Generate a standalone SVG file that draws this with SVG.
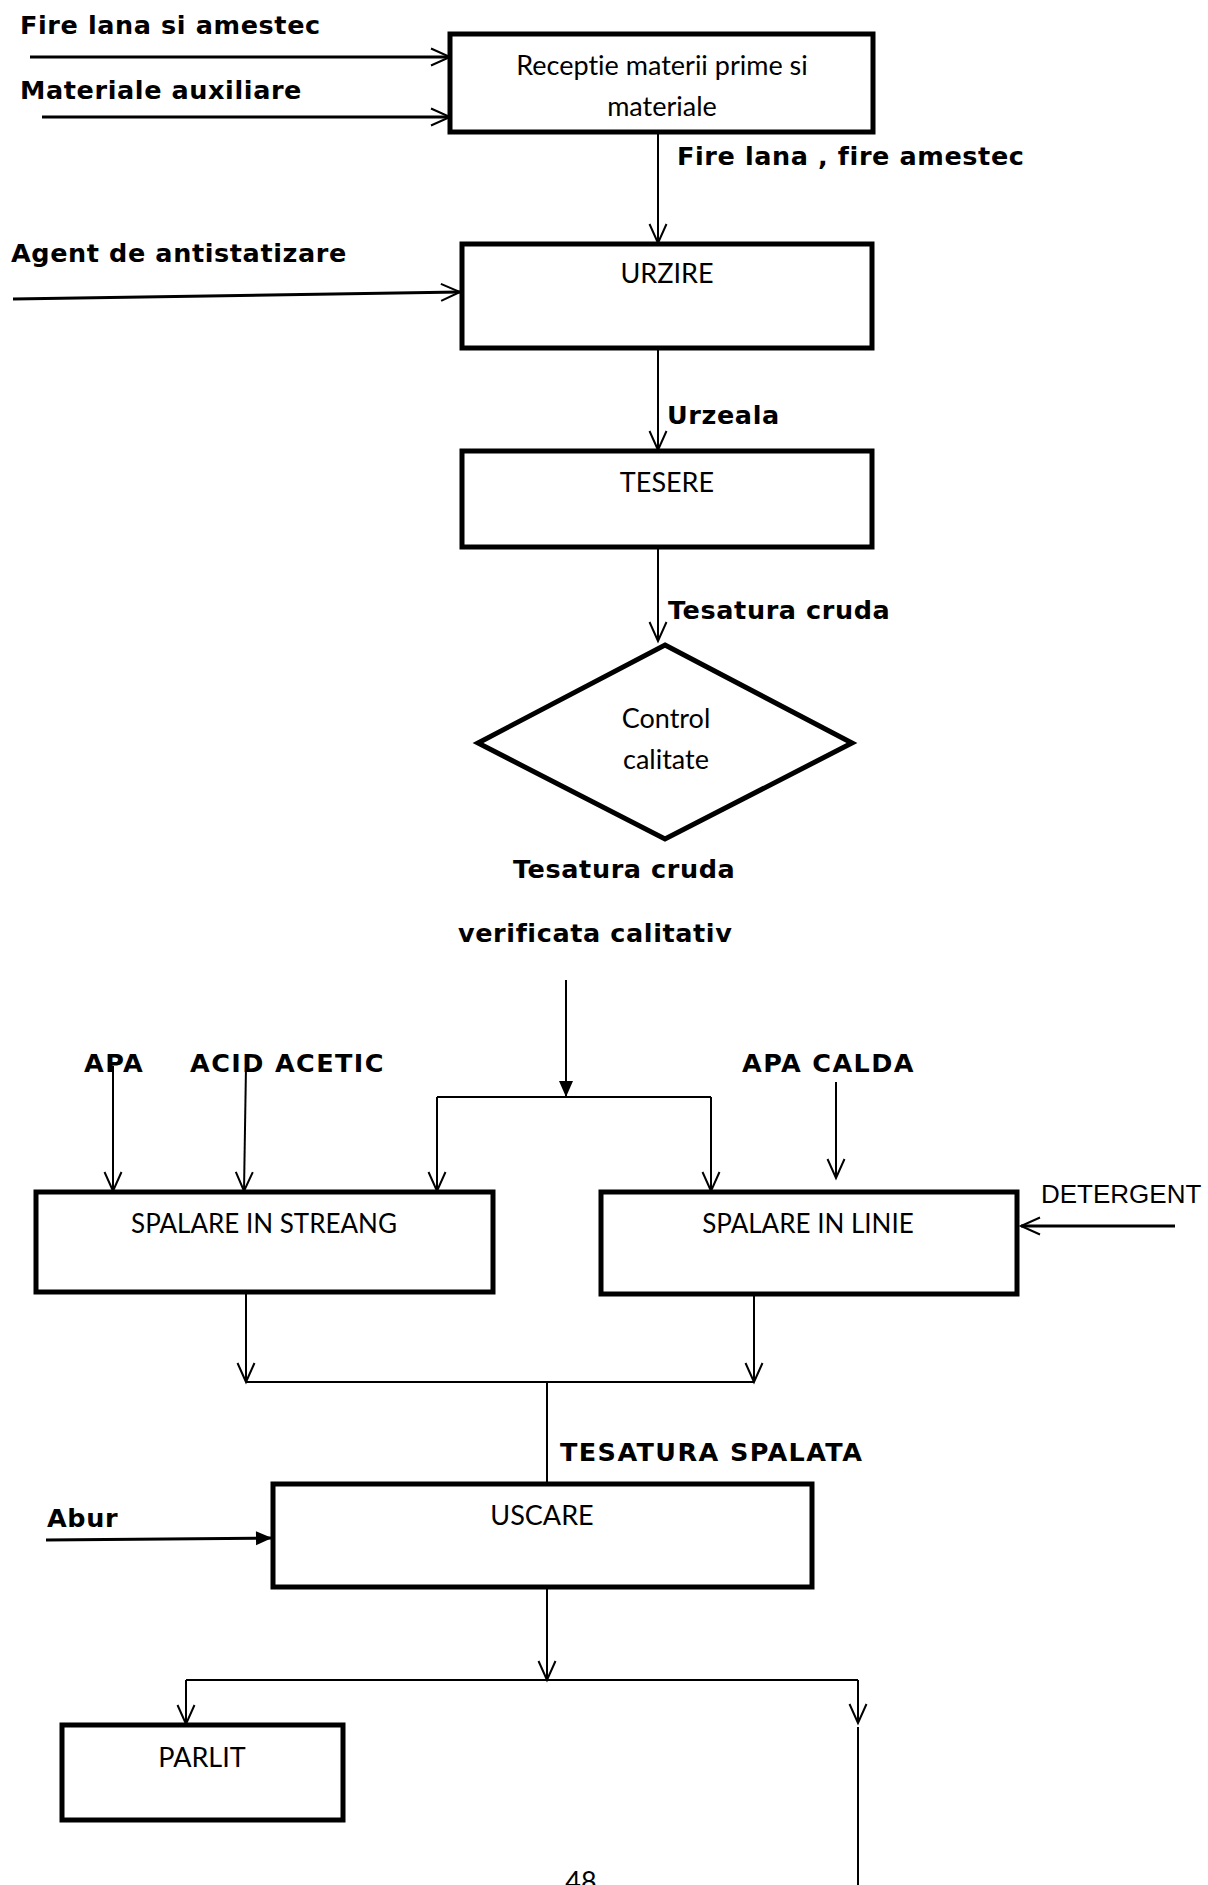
<svg xmlns="http://www.w3.org/2000/svg" width="1208" height="1885" viewBox="0 0 1208 1885">
<style>
.bg{fill:#fff}
.box{fill:#fff;stroke:#000;stroke-width:5}
.t{font-family:Lato,"Open Sans",sans-serif;font-size:27px;fill:#000;text-anchor:middle;font-variant-ligatures:none}
.lb{font-family:"DejaVu Sans",Verdana,sans-serif;font-weight:bold;font-size:25.5px;letter-spacing:0.6px;fill:#000}
.up{letter-spacing:1.4px}
.lr{font-family:"Liberation Sans",Arial,sans-serif;font-size:26px;fill:#000}
.c{fill:none;stroke:#000;stroke-width:2}
.c3{fill:none;stroke:#000;stroke-width:3}
</style>
<defs>
<marker id="open" markerWidth="26" markerHeight="22" refX="20" refY="9" orient="auto" markerUnits="userSpaceOnUse" overflow="visible">
<path d="M1,0.5 L20,9 L1,17.5" fill="none" stroke="#000" stroke-width="2"/>
</marker>
<marker id="fill" markerWidth="20" markerHeight="18" refX="16" refY="7" orient="auto" markerUnits="userSpaceOnUse" overflow="visible">
<path d="M0,0 L16,7 L0,14 z" fill="#000"/>
</marker>
</defs>
<rect class="bg" x="0" y="0" width="1208" height="1885"/>

<g id="connectors">
<line class="c3" x1="30" y1="57" x2="450" y2="57" marker-end="url(#open)"/>
<line class="c3" x1="42" y1="117" x2="450" y2="117" marker-end="url(#open)"/>
<line class="c" x1="658" y1="133" x2="658" y2="243" marker-end="url(#open)"/>
<line class="c3" x1="13" y1="299" x2="460" y2="292" marker-end="url(#open)"/>
<line class="c" x1="658" y1="348" x2="658" y2="450" marker-end="url(#open)"/>
<line class="c" x1="658" y1="547" x2="658" y2="641" marker-end="url(#open)"/>
<line class="c" x1="566" y1="980" x2="566" y2="1097" marker-end="url(#fill)"/>
<line class="c" x1="437" y1="1097" x2="711" y2="1097"/>
<line class="c" x1="437" y1="1097" x2="437" y2="1191" marker-end="url(#open)"/>
<line class="c" x1="711" y1="1097" x2="711" y2="1191" marker-end="url(#open)"/>
<line class="c" x1="113" y1="1066" x2="113" y2="1191" marker-end="url(#open)"/>
<line class="c" x1="246" y1="1066" x2="244" y2="1191" marker-end="url(#open)"/>
<line class="c" x1="836" y1="1082" x2="836" y2="1178" marker-end="url(#open)"/>
<line class="c3" x1="1175" y1="1226" x2="1021" y2="1226" marker-end="url(#open)"/>
<line class="c" x1="246" y1="1283" x2="246" y2="1382" marker-end="url(#open)"/>
<line class="c" x1="754" y1="1294" x2="754" y2="1382" marker-end="url(#open)"/>
<line class="c" x1="246" y1="1382" x2="754" y2="1382"/>
<line class="c" x1="547" y1="1382" x2="547" y2="1484"/>
<line class="c3" x1="46" y1="1540" x2="272" y2="1538" marker-end="url(#fill)"/>
<line class="c" x1="547" y1="1587" x2="547" y2="1680" marker-end="url(#open)"/>
<line class="c" x1="186" y1="1680" x2="858" y2="1680"/>
<line class="c" x1="186" y1="1680" x2="186" y2="1724" marker-end="url(#open)"/>
<line class="c" x1="858" y1="1680" x2="858" y2="1723" marker-end="url(#open)"/>
<line class="c" x1="858" y1="1727" x2="858" y2="1885"/>
</g>

<g id="receptie">
<rect class="box" x="450" y="34" width="423" height="98"/>
<text class="t" x="662" y="75">Receptie materii prime si</text>
<text class="t" x="662" y="116">materiale</text>
</g>
<g id="urzire">
<rect class="box" x="462" y="244" width="410" height="104"/>
<text class="t" x="667" y="283">URZIRE</text>
</g>
<g id="tesere">
<rect class="box" x="462" y="451" width="410" height="96"/>
<text class="t" x="667" y="492">TESERE</text>
</g>
<g id="control">
<polygon class="box" points="665,645 852,743 665,839 478,743"/>
<text class="t" x="666" y="728">Control</text>
<text class="t" x="666" y="769">calitate</text>
</g>
<g id="spalare-streang">
<rect class="box" x="36" y="1192" width="457" height="100"/>
<text class="t" x="264" y="1233" style="font-size:26px">SPALARE IN STREANG</text>
</g>
<g id="spalare-linie">
<rect class="box" x="601" y="1192" width="416" height="102"/>
<text class="t" x="808" y="1233" style="font-size:26px">SPALARE IN LINIE</text>
</g>
<g id="uscare">
<rect class="box" x="273" y="1484" width="539" height="103"/>
<text class="t" x="542" y="1525">USCARE</text>
</g>
<g id="parlit">
<rect class="box" x="62" y="1725" width="281" height="95"/>
<text class="t" x="202" y="1767">PARLIT</text>
</g>

<g id="labels">
<text class="lb" x="20" y="34">Fire lana si amestec</text>
<text class="lb" x="20" y="99">Materiale auxiliare</text>
<text class="lb" x="677" y="165">Fire lana , fire amestec</text>
<text class="lb" x="11" y="262">Agent de antistatizare</text>
<text class="lb" x="667" y="424">Urzeala</text>
<text class="lb" x="668" y="619">Tesatura cruda</text>
<text class="lb" x="513" y="878">Tesatura cruda</text>
<text class="lb" x="458" y="942">verificata calitativ</text>
<text class="lb up" x="84" y="1072">APA</text>
<text class="lb up" x="190" y="1072">ACID ACETIC</text>
<text class="lb up" x="742" y="1072">APA CALDA</text>
<text class="lr" x="1041" y="1203">DETERGENT</text>
<text class="lb up" x="560" y="1461">TESATURA SPALATA</text>
<text class="lb" x="47" y="1527">Abur</text>
<text class="t" x="581" y="1891">48</text>
</g>
</svg>
